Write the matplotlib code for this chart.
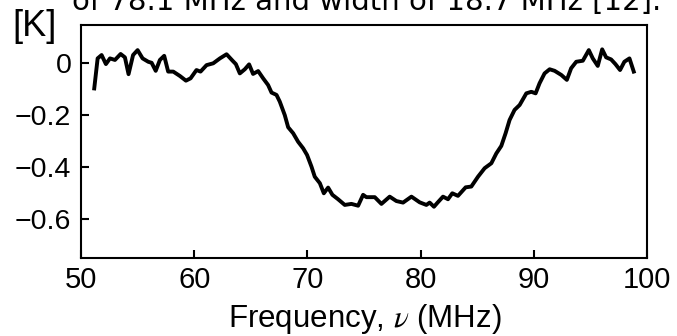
import matplotlib
matplotlib.use("Agg")
import matplotlib.pyplot as plt

freq = [51.17, 51.47, 51.82, 52.2, 52.56, 53.0, 53.5, 53.88, 54.2, 54.6, 55.0, 55.44, 55.94,
        56.24, 56.6, 56.97, 57.35, 57.7, 58.15, 58.74, 59.27, 59.68, 60.2, 60.56, 61.09, 61.68,
        62.27, 62.86, 63.39, 63.68, 64.03, 64.47, 64.85, 65.2, 65.65, 66.09, 66.53, 66.83, 67.27,
        67.56, 68.0, 68.3, 68.74, 69.18, 69.62, 69.97, 70.36, 70.65, 71.1, 71.45, 71.83, 72.21,
        72.71, 73.3, 73.89, 74.48, 74.92, 75.21, 75.95, 76.54, 77.27, 77.86, 78.45, 79.19, 79.92,
        80.51, 80.8, 81.18, 81.5, 81.98, 82.42, 82.8, 83.3, 83.98, 84.48, 85.07, 85.66, 86.25,
        86.69, 87.13, 87.51, 87.86, 88.3, 88.75, 89.34, 89.78, 90.16, 90.51, 90.95, 91.4, 91.84,
        92.43, 92.92, 93.3, 93.75, 94.33, 94.86, 95.21, 95.65, 96.04, 96.39, 96.83, 97.21, 97.62,
        98.0, 98.45, 98.83]
temp = [-0.097, 0.019, 0.032, -0.003, 0.019, 0.013, 0.036, 0.023, -0.042, 0.032, 0.051, 0.019, 0.006,
        0.002, -0.029, 0.013, 0.029, -0.032, -0.032, -0.049, -0.067, -0.058, -0.026, -0.032, -0.007, 0.000,
        0.019, 0.035, 0.010, -0.003, -0.039, -0.023, -0.004, -0.041, -0.030, -0.058, -0.084, -0.113, -0.122,
        -0.148, -0.200, -0.247, -0.270, -0.303, -0.328, -0.354, -0.399, -0.438, -0.463, -0.502, -0.480, -0.508,
        -0.525, -0.547, -0.543, -0.550, -0.508, -0.517, -0.517, -0.543, -0.515, -0.532, -0.538, -0.515, -0.537,
        -0.547, -0.538, -0.554, -0.538, -0.515, -0.525, -0.502, -0.512, -0.479, -0.476, -0.438, -0.405, -0.386,
        -0.348, -0.319, -0.270, -0.219, -0.180, -0.161, -0.116, -0.110, -0.116, -0.077, -0.039, -0.023, -0.029,
        -0.045, -0.064, -0.019, 0.006, 0.010, 0.051, 0.019, -0.010, 0.054, 0.023, 0.015, -0.003, -0.026,
        0.006, 0.019, -0.032]

xticks = [50, 60, 70, 80, 90, 100]
yticks = [0, -0.2, -0.4, -0.6]
ytick_labels = ["0", "\u22120.2", "\u22120.4", "\u22120.6"]

plt.rcParams['mathtext.fontset'] = 'stix'
fig = plt.figure(figsize=(6.77, 3.36), dpi=100)
ax = fig.add_axes([81/677, 1-258/336, (647-81)/677, (258-25)/336])
ax.plot(freq, temp, color='black', lw=2.8, solid_joinstyle='round')
ax.set_xlim(50, 100)
ax.set_ylim(-0.752, 0.148)
ax.set_xticks(xticks)
ax.set_xticklabels([str(t) for t in xticks], fontfamily='Liberation Sans', fontsize=21)
ax.set_yticks(yticks)
ax.set_yticklabels(ytick_labels, fontfamily='Liberation Sans', fontsize=20.5)
ax.tick_params(direction='in', length=6, width=1.5, top=False, right=False)
ax.tick_params(axis='x', pad=5.5)
ax.tick_params(axis='y', pad=7)
for s in ax.spines.values():
    s.set_linewidth(1.5)
ax.set_xlabel("Frequency, $\\nu$ (MHz)", fontfamily='Liberation Sans', fontsize=22.5)
ax.xaxis.label.set_va('baseline')
ax.xaxis.set_label_coords(0.502, (258-327)/233)
fig.text(12/677, 1-36/336, "[K]", fontfamily='Liberation Sans', fontsize=26, va='baseline', ha='left')
fig.text(72/677, 1-9.5/336, "of 78.1 MHz and width of 18.7 MHz [12].", fontfamily='DejaVu Sans',
         fontsize=21, va='baseline', ha='left')
fig.savefig("out.png", dpi=100)
